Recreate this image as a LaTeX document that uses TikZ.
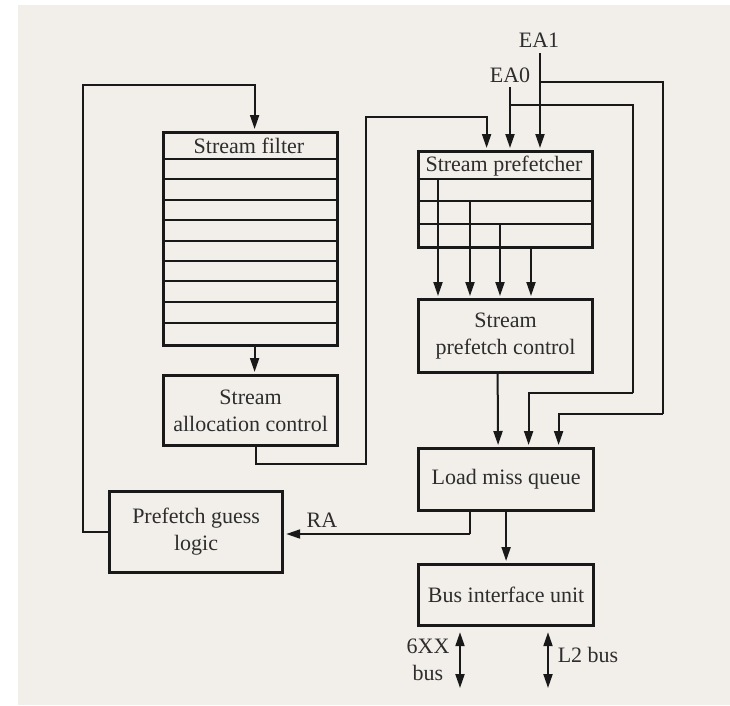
\documentclass[tikz,border=0pt]{standalone}
\usepackage{fontspec}
\setmainfont{Liberation Serif}
\usetikzlibrary{arrows.meta}
\definecolor{bg}{RGB}{242,239,234}
\definecolor{ink}{RGB}{25,25,25}
\definecolor{txt}{RGB}{45,45,45}
\begin{document}
\begin{tikzpicture}[x=1pt,y=-1pt,
  box/.style={draw=ink, line width=3.2pt, inner sep=0pt, anchor=north west,
    align=center, font=\fontsize{22}{27}\selectfont, text=txt},
  conn/.style={draw=ink, line width=2pt},
  arr/.style={conn, -{Triangle[length=14pt,width=9pt]}, shorten >=2pt},
  biarr/.style={conn, {Triangle[length=14pt,width=9pt]}-{Triangle[length=14pt,width=9pt]}},
  rowline/.style={draw=ink, line width=2pt},
  lbl/.style={inner sep=0pt, align=center, font=\fontsize{22}{27}\selectfont, text=txt}]
\useasboundingbox (0,0) rectangle (730,705);
\fill[white] (0,0) rectangle (730,705);
\fill[bg] (18,5) rectangle (730,705);

% boxes
\node[box, minimum width=174pt, minimum height=213pt] (sf) at (162,131) {};
\node[lbl] (sft) at (249,146) {Stream filter};
\foreach \yy in {159,179,200,220,241,261,281,302,323}
  \draw[rowline] (sf.west |- 0,\yy) -- (sf.east |- 0,\yy);

\node[box, minimum width=174pt, minimum height=70pt] (sac) at (162,374) {Stream\\allocation control};
\node[box, minimum width=173pt, minimum height=81pt] (pgl) at (108,490) {Prefetch guess\\logic};

\node[box, minimum width=174pt, minimum height=96pt] (sp) at (417,150) {};
\node[lbl] (spt) at (504,166) {Stream prefetcher};
\foreach \yy in {179,201,224}
  \draw[rowline] (sp.west |- 0,\yy) -- (sp.east |- 0,\yy);

\node[box, minimum width=174pt, minimum height=73pt] (spc) at (417,298) {Stream\\prefetch control};
\node[box, minimum width=175pt, minimum height=62pt] (lmq) at (417,447) {Load miss queue};
\node[box, minimum width=175pt, minimum height=61pt] (biu) at (417,563) {Bus interface unit};

% labels
\node[lbl] (tea1) at (539,40) {EA1};
\node[lbl] (tea0) at (510,75) {EA0};
\node[lbl] (tra) at (322,520) {RA};
\node[lbl] (t6xx) at (428,660) {6XX\\bus};
\node[lbl] (tl2) at (588,655) {L2 bus};

% coordinates
\coordinate (lp) at (83,85);
\coordinate (k1) at (366,464);
\coordinate (k2) at (366,117);
\coordinate (ea0s) at (510,87);
\coordinate (ea1s) at (540,53);
\coordinate (e0b) at (510,105);
\coordinate (e0r) at (633,393);
\coordinate (e1b) at (540,82);
\coordinate (e1r) at (663,414);
\coordinate (v1) at (438,179);
\coordinate (v2) at (470,201);
\coordinate (v3) at (500,224);
\coordinate (v4) at (531,246);
\coordinate (rk) at (470,534);
\coordinate (b6) at (460,688);
\coordinate (bl2) at (548,688);

% connectors
\draw[arr] (pgl.west) -| (lp) -| ([xshift=4pt]sf.north);
\draw[arr] ([xshift=4pt]sf.south) -- ([xshift=4pt]sac.north);
\draw[arr] ([xshift=5pt]sac.south) |- (k1) -- (k2) -| ([xshift=-19pt]sp.north);
\draw[arr] (ea0s) -- (ea0s |- sp.north);
\draw[arr] (ea1s) -- (ea1s |- sp.north);
\draw[conn] (e0b) -| (e0r);
\draw[arr] (e0r) -| ([xshift=22.5pt]lmq.north);
\draw[conn] (e1b) -| (e1r);
\draw[arr] (e1r) -| ([xshift=52.5pt]lmq.north);
\foreach \c in {v1,v2,v3,v4}
  \draw[arr] (\c) -- (\c |- spc.north);
\draw[arr] ([xshift=-8pt]spc.south) -- ([xshift=-8pt]lmq.north);
\draw[arr] (lmq.south) -- (biu.north);
\draw[conn] (lmq.south -| rk) -- (rk);
\draw[arr] (rk) -- (pgl.east |- rk);
\draw[biarr] ([yshift=-5pt]biu.south -| b6) -- (b6);
\draw[biarr] ([yshift=-5pt]biu.south -| bl2) -- (bl2);
\end{tikzpicture}
\end{document}
